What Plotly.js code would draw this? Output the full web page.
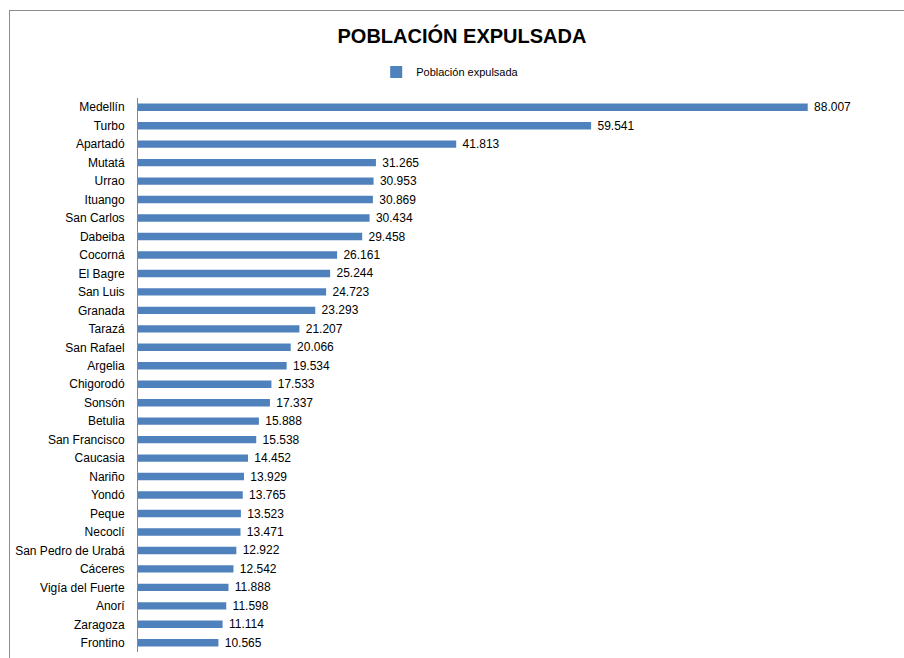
<!DOCTYPE html>
<html>
<head>
<meta charset="utf-8">
<script src="https://cdn.plot.ly/plotly-3.0.1.min.js"></script>
<style>
  html, body { margin: 0; padding: 0; background: #fff; }
  #wrap { position: relative; width: 904px; height: 658px; overflow: hidden; }
  #frame { position: absolute; left: 9px; top: 10px; width: 900px; height: 700px; border: 1px solid #8c8c8c; box-sizing: border-box; }
  #chart { position: absolute; left: 0; top: 0; width: 904px; height: 658px; }
</style>
</head>
<body>
<div id="wrap">
  <div id="frame"></div>
  <div id="chart"></div>
</div>
<script>
const municipios = ["Medellín","Turbo","Apartadó","Mutatá","Urrao","Ituango","San Carlos","Dabeiba","Cocorná","El Bagre","San Luis","Granada","Tarazá","San Rafael","Argelia","Chigorodó","Sonsón","Betulia","San Francisco","Caucasia","Nariño","Yondó","Peque","Necoclí","San Pedro de Urabá","Cáceres","Vigía del Fuerte","Anorí","Zaragoza","Frontino"];
const poblacionExpulsada = [88007,59541,41813,31265,30953,30869,30434,29458,26161,25244,24723,23293,21207,20066,19534,17533,17337,15888,15538,14452,13929,13765,13523,13471,12922,12542,11888,11598,11114,10565];
const serieNombre = "Población expulsada";
const tituloTexto = "POBLACIÓN EXPULSADA";

const trace = {
  type: "bar",
  orientation: "h",
  name: serieNombre,
  y: municipios,
  x: poblacionExpulsada,
  marker: { color: "#4F81BD" },
  texttemplate: " %{x:,}",
  textposition: "outside",
  constraintext: "none",
  cliponaxis: false,
  textfont: { family: "Liberation Sans, Arial, sans-serif", size: 12, color: "#000" },
  hoverinfo: "none"
};

const layout = {
  width: 904, height: 658,
  separators: ",.",
  paper_bgcolor: "rgba(0,0,0,0)",
  plot_bgcolor: "rgba(0,0,0,0)",
  font: { family: "Liberation Sans, Arial, sans-serif", size: 12, color: "#000" },
  margin: { l: 138, r: 5, t: 98, b: 6 },
  bargap: 0.6,
  showlegend: true,
  title: {
    text: "<b>" + tituloTexto + "</b>",
    font: { family: "Liberation Sans, Arial, sans-serif", size: 20, color: "#000" },
    x: 0.511, xanchor: "center", xref: "container",
    y: 1 - 36/658, yanchor: "middle", yref: "container"
  },
  legend: {
    orientation: "h",
    xref: "container", yref: "container",
    x: 0.498, xanchor: "center",
    y: 1 - 72/658, yanchor: "middle",
    font: { size: 11 },
    itemwidth: 30
  },
  xaxis: {
    range: [0, 100000],
    visible: false,
    showgrid: false,
    zeroline: false,
    fixedrange: true
  },
  yaxis: {
    autorange: "reversed",
    showline: true,
    linecolor: "#868686",
    linewidth: 1,
    ticks: "",
    ticklabelstandoff: 10,
    showgrid: false,
    tickfont: { size: 12 },
    fixedrange: true
  }
};

Plotly.newPlot("chart", [trace], layout, { displayModeBar: false, staticPlot: true });
</script>
</body>
</html>
